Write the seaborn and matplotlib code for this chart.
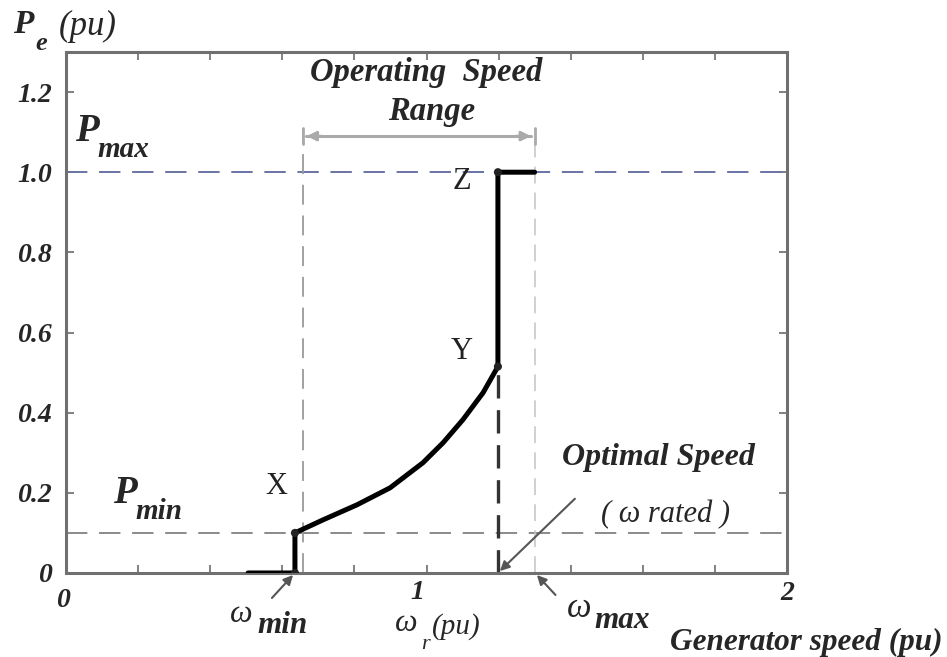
import matplotlib
matplotlib.use("Agg")
import matplotlib.pyplot as plt
import seaborn as sns
import pandas as pd

# --- data ---
speed = [0.505, 0.635, 0.635, 0.713, 0.807, 0.899, 0.990, 1.046, 1.101, 1.157, 1.198, 1.198, 1.30]
power = [0.0, 0.0, 0.10, 0.1325, 0.17, 0.2125, 0.275, 0.325, 0.3825, 0.45, 0.515, 1.0, 1.0]
key_speed = [0.635, 0.635, 1.198, 1.198]
key_power = [0.0, 0.10, 0.515, 1.0]
p_max = 1.0
p_min = 0.1
w_min = 0.656
w_rated = 1.198
w_max = 1.301
range_level = 1.09
y_ticks = [0, 0.2, 0.4, 0.6, 0.8, 1.0, 1.2]
y_tick_labels = ["0", "0.2", "0.4", "0.6", "0.8", "1.0", "1.2"]
x_ticks = [0, 0.2, 0.4, 0.6, 0.8, 1.0, 1.2, 1.4, 1.6, 1.8, 2.0]

sns.set_theme(style="white")
plt.rcParams["font.family"] = ["Liberation Serif", "DejaVu Serif"]

BI = dict(fontweight="bold", fontstyle="italic")
IT = dict(fontstyle="italic")

fig = plt.figure(figsize=(9.47, 6.57), dpi=100)
ax = fig.add_axes([0.0697, 0.1279, 0.7614, 0.7930])
ax.set_xlim(0, 2)
ax.set_ylim(0, 1.3)

# reference lines
ax.axhline(p_max, color="#6a73a3", lw=1.4, ls=(0, (11, 6)), zorder=1)
ax.axhline(p_min, color="#8a8a8a", lw=1.4, ls=(0, (11, 6)), zorder=1)
ax.plot([w_min, w_min], [0, range_level + 0.02], color="#9a9a9a", lw=1.3, ls=(0, (11, 6)), zorder=1)
ax.plot([w_max, w_max], [0, range_level + 0.02], color="#c4c4c4", lw=1.1, ls=(0, (11, 6)), zorder=1)
ax.plot([w_rated, w_rated], [0, key_power[2]], color="#333333", lw=2.4, ls=(0, (7, 3.5)), zorder=2)

# main characteristic
df = pd.DataFrame({"speed": speed, "power": power})
sns.lineplot(data=df, x="speed", y="power", sort=False, estimator=None,
             color="black", lw=3.6, ax=ax, zorder=3, solid_joinstyle="round")
sns.scatterplot(x=key_speed, y=key_power, color="#222222", s=34, ax=ax, zorder=4, edgecolor="none")

# operating speed range arrow
ax.plot([w_min + 0.01, w_max - 0.01], [range_level, range_level], color="#aaaaaa", lw=2.2, zorder=1)
ax.annotate("", xy=(w_min + 0.004, range_level), xytext=(w_min + 0.06, range_level),
            arrowprops=dict(arrowstyle="-|>", color="#aaaaaa", lw=2, mutation_scale=14))
ax.annotate("", xy=(w_max - 0.004, range_level), xytext=(w_max - 0.06, range_level),
            arrowprops=dict(arrowstyle="-|>", color="#aaaaaa", lw=2, mutation_scale=14))
for xx in (w_min, w_max):
    ax.plot([xx, xx], [range_level - 0.02, range_level + 0.02], color="#aaaaaa", lw=2, zorder=1)
ax.text(0.998, 1.25, "Operating  Speed", fontsize=23.5, ha="center", va="center", **BI)
ax.text(1.015, 1.1525, "Range", fontsize=23.5, ha="center", va="center", **BI)

# point labels
ax.text(1.098, 0.9775, "Z", fontsize=22, ha="center", va="center", color="#222222")
ax.text(1.098, 0.5525, "Y", fontsize=22, ha="center", va="center", color="#222222")
ax.text(0.5825, 0.215, "X", fontsize=22, ha="center", va="center", color="#222222")

# P labels
ax.text(0.025, 1.1025, "P", fontsize=28, ha="left", va="center", **BI)
ax.text(0.088, 1.0575, "max", fontsize=21, ha="left", va="center", **BI)
ax.text(0.130, 0.1975, "P", fontsize=28, ha="left", va="center", **BI)
ax.text(0.192, 0.1525, "min", fontsize=21, ha="left", va="center", **BI)

# optimal speed
ax.text(1.642, 0.2875, "Optimal Speed", fontsize=23, ha="center", va="center", **BI)
ax.text(1.664, 0.145, "( ω rated )", fontsize=22, ha="center", va="center", **IT)
ax.annotate("", xy=(w_rated, 0.0), xytext=(1.417, 0.19), annotation_clip=False,
            arrowprops=dict(arrowstyle="-|>", color="#555555", lw=1.5, mutation_scale=14))

# axis styling
ax.set_xticks(x_ticks)
ax.set_xticklabels([""] * len(x_ticks))
ax.set_yticks(y_ticks)
ax.set_yticklabels(y_tick_labels, fontsize=20, **BI)
ax.tick_params(axis="both", direction="in", length=6, width=1.3, color="#777777",
               top=True, right=True, bottom=True, left=True, pad=10)
for sp in ax.spines.values():
    sp.set_color("#707070")
    sp.set_linewidth(2.2)
ax.set_xlabel("")
ax.set_ylabel("")

# x tick labels and annotations below axis
ax.text(-0.008, -0.0675, "0", fontsize=20, ha="center", va="center", clip_on=False, **BI)
ax.text(0.974, -0.0475, "1", fontsize=20, ha="center", va="center", clip_on=False, **BI)
ax.text(2.0, -0.05, "2", fontsize=20, ha="center", va="center", clip_on=False, **BI)

ax.annotate("", xy=(0.635, 0.0), xytext=(0.566, -0.0675), annotation_clip=False,
            arrowprops=dict(arrowstyle="-|>", color="#555555", lw=1.5, mutation_scale=14))
ax.text(0.455, -0.1025, "ω", fontsize=23, ha="left", va="center", clip_on=False, **IT)
ax.text(0.53, -0.13, "min", fontsize=22.5, ha="left", va="center", clip_on=False, **BI)

ax.annotate("", xy=(w_max, 0.0), xytext=(1.363, -0.06), annotation_clip=False,
            arrowprops=dict(arrowstyle="-|>", color="#555555", lw=1.5, mutation_scale=14))
ax.text(1.39, -0.0875, "ω", fontsize=25, ha="left", va="center", clip_on=False, **IT)
ax.text(1.467, -0.1175, "max", fontsize=22.5, ha="left", va="center", clip_on=False, **BI)

ax.text(0.913, -0.125, "ω", fontsize=23, ha="left", va="center", clip_on=False, **IT)
ax.text(0.985, -0.178, "r", fontsize=16, ha="left", va="center", clip_on=False, **IT)
ax.text(1.015, -0.133, "(pu)", fontsize=21, ha="left", va="center", clip_on=False, **IT)

ax.text(2.43, -0.1725, "Generator speed (pu)", fontsize=22.5, ha="right", va="center",
        clip_on=False, **BI)

fig.text(0.0137, 0.962, "P", fontsize=24, ha="left", va="center", **BI)
fig.text(0.0375, 0.934, "e", fontsize=19, ha="left", va="center", **BI)
fig.text(0.062, 0.960, "(pu)", fontsize=25, ha="left", va="center", **IT)

fig.savefig("out.png", dpi=100)
